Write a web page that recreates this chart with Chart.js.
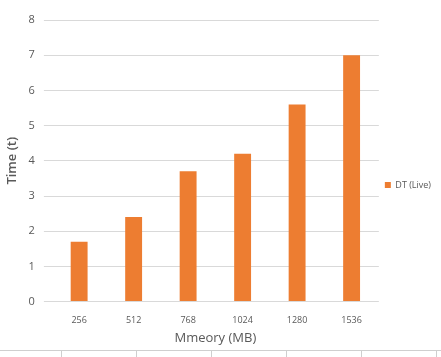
<!DOCTYPE html>
<html lang="en">
<head>
    <meta charset="UTF-8">
    <title>Memory vs Time</title>
    <script src="https://cdn.jsdelivr.net/npm/chart.js"></script>
    <style>
        body { margin: 0; background: #fff; }
        #wrap { width: 441px; height: 357px; }
    </style>
</head>
<body>
<div id="wrap">
  <canvas id="TimeChart" width="441" height="357"></canvas>
</div>
<script>
// chart data
const memoryLabels = ['256', '512', '768', '1024', '1280', '1536'];
const dtLiveTimes = [1.7, 2.4, 3.7, 4.2, 5.6, 7.0];
const yTicks = [0, 1, 2, 3, 4, 5, 6, 7, 8];

// the table border strip along the bottom of the picture
const bottomStrip = {
    id: 'bottomStrip',
    afterDraw(chart) {
        const ctx = chart.ctx;
        ctx.save();
        ctx.strokeStyle = '#cfcfcf';
        ctx.lineWidth = 1;
        ctx.beginPath();
        ctx.moveTo(0, 350.5);
        ctx.lineTo(441, 350.5);
        [61, 136, 211, 286, 361, 436].forEach(x => {
            ctx.moveTo(x + 0.5, 350);
            ctx.lineTo(x + 0.5, 357);
        });
        ctx.stroke();
        ctx.restore();
    }
};

const ctx = document.getElementById('TimeChart').getContext('2d');
new Chart(ctx, {
    type: 'bar',
    data: {
        labels: memoryLabels,
        datasets: [{
            label: 'DT (Live)',
            data: dtLiveTimes,
            backgroundColor: '#ed7d31',
            categoryPercentage: 1,
            barPercentage: 0.31
        }]
    },
    options: {
        responsive: false,
        animation: false,
        layout: { padding: { top: 20, left: 0, right: 0, bottom: 7 } },
        plugins: {
            legend: {
                position: 'right',
                labels: {
                    boxWidth: 6,
                    boxHeight: 6,
                    padding: 6,
                    color: '#595959',
                    font: { family: 'Open Sans', size: 9 }
                }
            },
            tooltip: { enabled: false }
        },
        scales: {
            x: {
                grid: { display: false },
                border: { display: false },
                ticks: { color: '#595959', font: { family: 'Open Sans', size: 9 }, padding: 5 },
                title: {
                    display: true,
                    text: 'Mmeory (MB)',
                    color: '#595959',
                    font: { family: 'Open Sans', size: 13 },
                    padding: { top: 0 }
                }
            },
            y: {
                min: 0,
                max: 8,
                afterBuildTicks: axis => { axis.ticks = yTicks.map(v => ({ value: v })); },
                grid: { color: '#d9d9d9' },
                border: { display: false },
                ticks: { color: '#595959', font: { family: 'Open Sans', size: 11 }, padding: 9 },
                title: {
                    display: true,
                    text: 'Time (t)',
                    color: '#595959',
                    font: { family: 'Open Sans', size: 13, weight: '600' },
                    padding: { bottom: 0 }
                }
            }
        }
    },
    plugins: [bottomStrip]
});
</script>
</body>
</html>
